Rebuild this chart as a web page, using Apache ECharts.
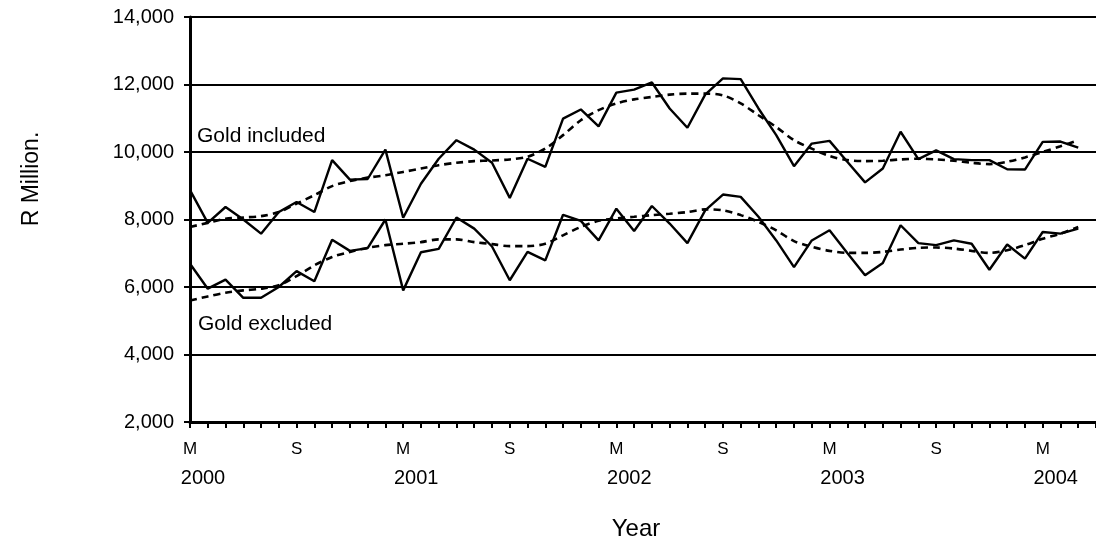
<!DOCTYPE html>
<html>
<head>
<meta charset="utf-8">
<script src="https://cdn.jsdelivr.net/npm/echarts@6/dist/echarts.min.js"></script>
<style>
  html, body { margin: 0; padding: 0; background: #fff; }
  #chart { width: 1096px; height: 545px; }
</style>
</head>
<body>
<div id="chart"></div>
<script>
// Months, March 2000 .. June 2004 (last month has no data; it only extends the axis)
const categories = [
  '2000-03','2000-04','2000-05','2000-06','2000-07','2000-08','2000-09','2000-10','2000-11','2000-12',
  '2001-01','2001-02','2001-03','2001-04','2001-05','2001-06','2001-07','2001-08','2001-09','2001-10','2001-11','2001-12',
  '2002-01','2002-02','2002-03','2002-04','2002-05','2002-06','2002-07','2002-08','2002-09','2002-10','2002-11','2002-12',
  '2003-01','2003-02','2003-03','2003-04','2003-05','2003-06','2003-07','2003-08','2003-09','2003-10','2003-11','2003-12',
  '2004-01','2004-02','2004-03','2004-04','2004-05','2004-06'
];

const goldIncluded = [
  8870, 7900, 8370, 8000, 7580, 8220, 8520, 8220, 9760, 9180,
  9200, 10070, 8050, 9060, 9800, 10350, 10070, 9680, 8640, 9800, 9560, 10990,
  11260, 10760, 11760, 11850, 12060, 11290, 10720, 11700, 12180, 12160, 11290, 10500,
  9580, 10250, 10330, 9710, 9100, 9510, 10600, 9790, 10050, 9790, 9760, 9760,
  9490, 9480, 10300, 10310, 10130
];

const goldIncludedTrend = [
  7780, 7900, 8020, 8060, 8100, 8220, 8470, 8720, 8990, 9140,
  9240, 9310, 9410, 9510, 9610, 9680, 9730, 9750, 9780, 9860, 10100, 10500,
  10940, 11240, 11440, 11560, 11630, 11700, 11730, 11730, 11680, 11440, 11090, 10740,
  10350, 10100, 9880, 9760, 9730, 9740, 9780, 9800, 9780, 9740, 9680, 9640,
  9710, 9840, 10000, 10170, 10350
];

const goldExcluded = [
  6690, 5950, 6220, 5680, 5680, 6000, 6470, 6170, 7400, 7070,
  7150, 8000, 5900, 7030, 7130, 8060, 7730, 7200, 6200, 7040, 6790, 8140,
  7960, 7380, 8320, 7660, 8400, 7880, 7300, 8270, 8740, 8670, 8080, 7380,
  6590, 7380, 7680, 7010, 6350, 6710, 7830, 7300, 7240, 7380, 7280, 6510,
  7260, 6840, 7630, 7580, 7730
];

const goldExcludedTrend = [
  5600, 5720, 5830, 5900, 5950, 6050, 6320, 6640, 6890, 7040,
  7160, 7240, 7280, 7330, 7410, 7410, 7330, 7270, 7210, 7210, 7280, 7530,
  7780, 7960, 8030, 8080, 8130, 8170, 8220, 8300, 8270, 8130, 7930, 7680,
  7360, 7190, 7070, 7010, 7010, 7040, 7110, 7160, 7170, 7140, 7070, 7010,
  7090, 7240, 7430, 7580, 7780
];

const monthLetters = { '03': 'M', '09': 'S' };
const yTicks = { min: 2000, max: 14000, interval: 2000 };

const FONT = "'Liberation Sans', Arial, Helvetica, sans-serif";
const chart = echarts.init(document.getElementById('chart'), null, { renderer: 'canvas' });

const month = v => v.split('-')[1];
const year = v => v.split('-')[0];

chart.setOption({
  animation: false,
  backgroundColor: '#fff',
  grid: { left: 190, top: 17, right: -4, bottom: 123, containLabel: false },
  xAxis: [
    {
      type: 'category',
      data: categories,
      boundaryGap: false,
      axisLine: { show: true, lineStyle: { color: '#000', width: 3 } },
      axisTick: { show: true, interval: 0, length: 6, lineStyle: { color: '#000', width: 2 } },
      splitLine: { show: false },
      axisLabel: {
        interval: (i, v) => monthLetters[month(v)] !== undefined,
        formatter: v => monthLetters[month(v)] || '',
        color: '#000', fontFamily: FONT, fontSize: 17, margin: 19
      }
    },
    {
      type: 'category',
      data: categories,
      boundaryGap: false,
      position: 'bottom',
      axisLine: { show: false },
      axisTick: { show: false },
      splitLine: { show: false },
      axisLabel: {
        interval: (i, v) => month(v) === '03',
        formatter: v => year(v),
        color: '#000', fontFamily: FONT, fontSize: 20, margin: 46,
        padding: [0, 0, 0, 26]
      }
    }
  ],
  yAxis: {
    type: 'value',
    min: yTicks.min, max: yTicks.max, interval: yTicks.interval,
    axisLine: { show: true, lineStyle: { color: '#000', width: 3 } },
    axisTick: { show: true, length: 6, lineStyle: { color: '#000', width: 2 } },
    splitLine: { show: true, lineStyle: { color: '#000', width: 2.2 } },
    axisLabel: {
      formatter: v => v.toLocaleString('en-US'),
      color: '#000', fontFamily: FONT, fontSize: 20, margin: 16
    }
  },
  graphic: [
    { type: 'text', left: 197, top: 126, style: { text: 'Gold included', font: '21px ' + FONT, fill: '#000' } },
    { type: 'text', left: 198, top: 314, style: { text: 'Gold excluded', font: '21px ' + FONT, fill: '#000' } },
    { type: 'text', x: 636, y: 529, style: { text: 'Year', font: '24px ' + FONT, fill: '#000', align: 'center', verticalAlign: 'middle' } },
    { type: 'text', x: 32, y: 179, rotation: Math.PI / 2, style: { text: 'R Million.', font: '23px ' + FONT, fill: '#000', align: 'center', verticalAlign: 'middle' } }
  ],
  series: [
    { name: 'Gold included', type: 'line', data: goldIncluded, symbol: 'none', lineStyle: { color: '#000', width: 2.4 } },
    { name: 'Gold included trend', type: 'line', data: goldIncludedTrend, symbol: 'none', smooth: 0.3, lineStyle: { color: '#000', width: 2.6, type: [7, 5] } },
    { name: 'Gold excluded', type: 'line', data: goldExcluded, symbol: 'none', lineStyle: { color: '#000', width: 2.4 } },
    { name: 'Gold excluded trend', type: 'line', data: goldExcludedTrend, symbol: 'none', smooth: 0.3, lineStyle: { color: '#000', width: 2.6, type: [7, 5] } }
  ]
});
</script>
</body>
</html>
